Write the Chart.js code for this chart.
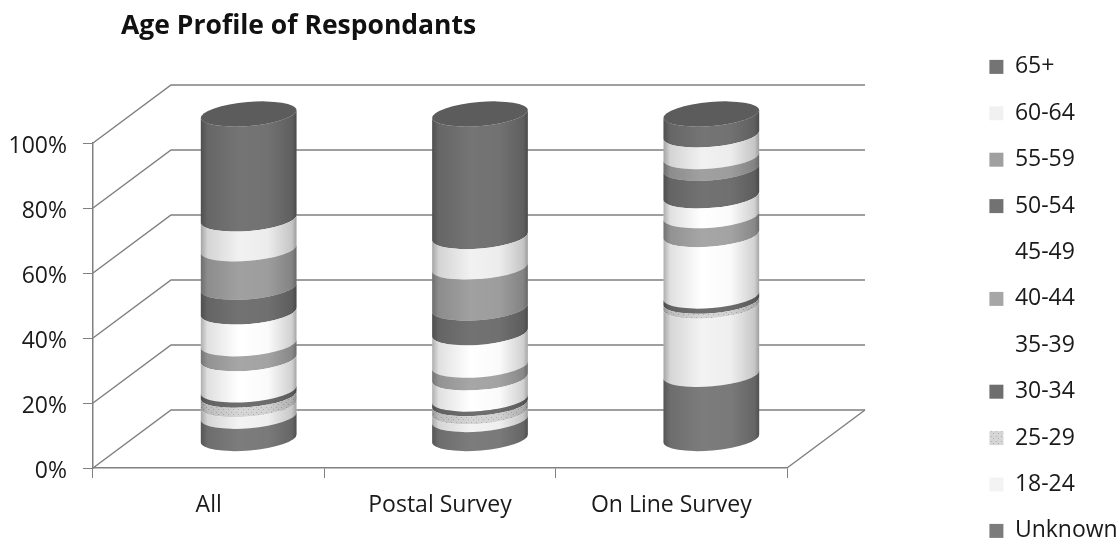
<!DOCTYPE html>
<html lang="en">
<head>
    <meta charset="UTF-8">
    <title>Age Profile of Respondants</title>
    <script src="https://cdn.jsdelivr.net/npm/chart.js"></script>
    <style>
        body { margin: 0; background-color: #ffffff; }
        #chartBox { width: 1120px; height: 542px; }
    </style>
</head>
<body>

<div id="chartBox"><canvas id="ageChart"></canvas></div>

<script>
const categories = ['All', 'Postal Survey', 'On Line Survey'];

const unknown = [7.0, 6.0, 19.9];
const age18to24 = [3.6, 2.4, 21.0];
const age25to29 = [2.9, 2.5, 1.5];
const age30to34 = [1.6, 1.4, 1.6];
const age35to39 = [9.6, 6.5, 18.9];
const age40to44 = [4.6, 3.9, 5.8];
const age45to49 = [9.8, 10.0, 6.1];
const age50to54 = [7.6, 7.6, 8.5];
const age55to59 = [11.8, 12.6, 3.6];
const age60to64 = [9.2, 9.4, 6.7];
const age65plus = [32.3, 37.7, 6.4];

const seriesNames = ['Unknown', '18-24', '25-29', '30-34', '35-39', '40-44', '45-49', '50-54', '55-59', '60-64', '65+'];
const seriesValues = [unknown, age18to24, age25to29, age30to34, age35to39, age40to44, age45to49, age50to54, age55to59, age60to64, age65plus];
const seriesColors = ['#7c7c7c', '#f3f3f3', '#d6d6d6', '#6e6e6e', '#ffffff', '#a6a6a6', '#ffffff', '#727272', '#a0a0a0', '#f1f1f1', '#747474'];

const FONT = '"Open Sans", Calibri, sans-serif';
const LINE_GRAY = '#808080';
// depth of the 3D box, the cylinders stand half way in
const DEPTH_X = 78;
const DEPTH_Y = -58;
const BAR_SHIFT_X = 40;
const BAR_SHIFT_Y = -29;
const ELLIPSE_RY = 12;
const ELLIPSE_TILT = -0.085;

// speckled fill for 25-29
function speckle() {
    const c = document.createElement('canvas');
    c.width = c.height = 5;
    const g = c.getContext('2d');
    g.fillStyle = seriesColors[2];
    g.fillRect(0, 0, 5, 5);
    g.fillStyle = '#b0b0b0';
    g.fillRect(1, 1, 1, 1);
    g.fillRect(3, 3, 1, 1);
    return g.createPattern(c, 'repeat');
}

// bars are drawn as cylinder slices
Chart.BarElement.prototype.draw = function (ctx) {
    const { x, y, base, width } = this.getProps(['x', 'y', 'base', 'width']);
    const rx = width / 2;

    ctx.save();
    ctx.translate(BAR_SHIFT_X, BAR_SHIFT_Y);

    ctx.beginPath();
    ctx.ellipse(x, y, rx, ELLIPSE_RY, ELLIPSE_TILT, 0, Math.PI, false);
    ctx.ellipse(x, base, rx, ELLIPSE_RY, ELLIPSE_TILT, Math.PI, 0, true);
    ctx.closePath();
    ctx.fillStyle = this.options.backgroundColor;
    ctx.fill();

    const shade = ctx.createLinearGradient(x - rx, 0, x + rx, 0);
    shade.addColorStop(0, 'rgba(0,0,0,0.32)');
    shade.addColorStop(0.07, 'rgba(0,0,0,0.12)');
    shade.addColorStop(0.4, 'rgba(0,0,0,0)');
    shade.addColorStop(0.7, 'rgba(0,0,0,0.02)');
    shade.addColorStop(0.95, 'rgba(0,0,0,0.18)');
    shade.addColorStop(1, 'rgba(0,0,0,0.36)');
    ctx.fillStyle = shade;
    ctx.fill();
    ctx.restore();
};

// back wall, side wall and floor lines, taken from the value scale
const wallsPlugin = {
    id: 'walls',
    beforeDatasetsDraw(chart) {
        const { ctx, chartArea, scales } = chart;
        const left = chartArea.left;
        const right = chartArea.right;
        ctx.save();
        ctx.strokeStyle = LINE_GRAY;
        ctx.lineWidth = 1.5;
        scales.y.ticks.forEach(tick => {
            const py = scales.y.getPixelForValue(tick.value);
            ctx.beginPath();
            ctx.moveTo(left, py);
            ctx.lineTo(left + DEPTH_X, py + DEPTH_Y);
            ctx.lineTo(right + DEPTH_X, py + DEPTH_Y);
            ctx.stroke();
        });
        ctx.beginPath();
        ctx.moveTo(right, chartArea.bottom);
        ctx.lineTo(right + DEPTH_X, chartArea.bottom + DEPTH_Y);
        ctx.stroke();
        ctx.restore();
    },
    // top face of the cylinders
    afterDatasetsDraw(chart) {
        const ctx = chart.ctx;
        const topBars = chart.getDatasetMeta(seriesNames.length - 1).data;
        ctx.save();
        ctx.translate(BAR_SHIFT_X, BAR_SHIFT_Y);
        ctx.fillStyle = '#5c5c5c';
        topBars.forEach(bar => {
            ctx.beginPath();
            ctx.ellipse(bar.x, bar.y, bar.width / 2, ELLIPSE_RY, ELLIPSE_TILT, 0, Math.PI * 2);
            ctx.fill();
        });
        ctx.restore();
    }
};

// title and legend sit outside the plot, move them after layout
const placePlugin = {
    id: 'place',
    afterLayout(chart) {
        chart.titleBlock.left = 121;
        const legend = chart.legend;
        legend.update(200, 620, { left: 0, top: 0, right: 0, bottom: 0 });
        legend.left = 966;
        legend.right = 1120;
        legend.top = 32;
        legend.bottom = 620;
    }
};

const ctx = document.getElementById('ageChart').getContext('2d');

new Chart(ctx, {
    type: 'bar',
    data: {
        labels: categories,
        datasets: seriesNames.map((name, i) => ({
            label: name,
            data: seriesValues[i],
            backgroundColor: i === 2 ? speckle() : seriesColors[i],
            barThickness: 96,
            clip: false
        }))
    },
    options: {
        responsive: true,
        maintainAspectRatio: false,
        animation: false,
        layout: { padding: { right: 333 } },
        scales: {
            x: {
                stacked: true,
                afterFit: scale => { scale.height = 74; },
                border: { color: LINE_GRAY, width: 1.5 },
                grid: { drawOnChartArea: false, tickLength: 10, color: LINE_GRAY },
                ticks: { color: '#1a1a1a', padding: 14, font: { family: FONT, size: 23 } }
            },
            y: {
                stacked: true,
                min: 0,
                max: 100,
                afterFit: scale => { scale.width = 93; },
                border: { color: LINE_GRAY, width: 1.5 },
                grid: { drawOnChartArea: false, tickLength: 10, color: LINE_GRAY },
                ticks: {
                    stepSize: 20,
                    color: '#1a1a1a',
                    padding: 16,
                    labelOffset: 3,
                    font: { family: FONT, size: 23 },
                    callback: value => value + '%'
                }
            }
        },
        plugins: {
            title: {
                display: true,
                text: 'Age Profile of Respondants',
                align: 'start',
                color: '#111111',
                padding: { top: 11, bottom: 100.2 },
                font: { family: FONT, size: 26.5, weight: 'bold' }
            },
            legend: {
                position: 'chartArea',
                align: 'start',
                reverse: true,
                labels: {
                    boxWidth: 14,
                    boxHeight: 14,
                    padding: 23.4,
                    color: '#1a1a1a',
                    font: { family: FONT, size: 23 }
                }
            },
            tooltip: { enabled: false }
        }
    },
    plugins: [wallsPlugin, placePlugin]
});
</script>

</body>
</html>
